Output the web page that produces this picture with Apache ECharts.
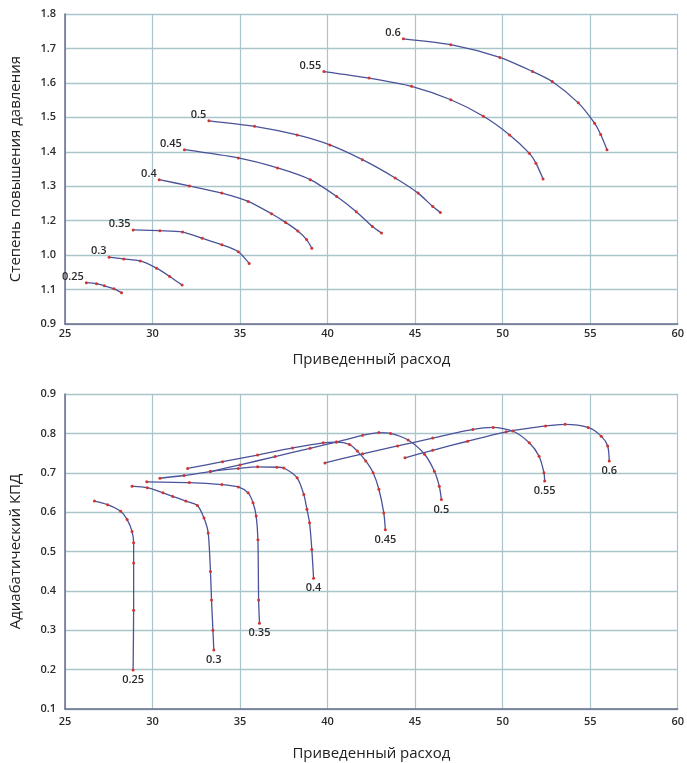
<!DOCTYPE html>
<html>
<head>
<meta charset="utf-8">
<title>Compressor map</title>
<script src="https://cdn.jsdelivr.net/npm/echarts@6/dist/echarts.min.js"></script>
<style>
  html, body { margin: 0; padding: 0; background: #fff; }
  #chart { width: 687px; height: 763px; }
</style>
</head>
<body>
<div id="chart"></div>
<script>
// speed lines (relative rpm)
const speeds = ['0.25', '0.3', '0.35', '0.4', '0.45', '0.5', '0.55', '0.6']

// tick labels as printed on the source chart (upper y axis is mislabelled there)
const xTickLabels = ['25', '30', '35', '40', '45', '50', '55', '60']
const prTickLabels = ['0.9', '1.1', '1.0', '1.2', '1.3', '1.4', '1.5', '1.6', '1.7', '1.8']
const effTickLabels = ['0.1', '0.2', '0.3', '0.4', '0.5', '0.6', '0.7', '0.8', '0.9']

// pressure ratio vs corrected flow, [flow, ratio]
const pr025 = [[26.22, 1.020], [26.8, 1.017], [27.25, 1.011], [27.8, 1.002], [28.23, 0.991]]
const pr030 = [[27.52, 1.094], [28.36, 1.089], [29.3, 1.083], [30.23, 1.062], [30.98, 1.038], [31.69, 1.013]]
const pr035 = [[28.89, 1.173], [30.42, 1.171], [31.72, 1.167], [32.84, 1.149], [33.96, 1.130], [34.9, 1.110], [35.52, 1.076]]
const pr040 = [[30.38, 1.319], [32.1, 1.301], [33.96, 1.28], [35.46, 1.256], [36.8, 1.22], [37.6, 1.195], [38.3, 1.17], [38.8, 1.145], [39.1, 1.12]]
const pr045 = [[31.82, 1.406], [34.9, 1.382], [37.14, 1.353], [39.01, 1.319], [40.52, 1.270], [41.64, 1.226], [42.56, 1.183], [43.08, 1.164]]
const pr050 = [[33.22, 1.490], [35.83, 1.474], [38.26, 1.449], [40.13, 1.420], [41.99, 1.377], [43.86, 1.324], [45.17, 1.280], [46.01, 1.241], [46.44, 1.224]]
const pr055 = [[39.79, 1.633], [42.37, 1.614], [44.8, 1.590], [47.04, 1.551], [48.9, 1.503], [50.4, 1.449], [51.52, 1.396], [51.9, 1.367], [52.31, 1.321]]
const pr060 = [[44.33, 1.728], [47.04, 1.711], [49.84, 1.674], [51.71, 1.633], [52.83, 1.604], [54.32, 1.542], [55.25, 1.483], [55.6, 1.45], [55.96, 1.406]]

// adiabatic efficiency vs corrected flow, [flow, eff]
const eff025 = [[26.68, 0.628], [27.43, 0.619], [28.18, 0.602], [28.55, 0.581], [28.83, 0.551], [28.92, 0.522], [28.92, 0.471], [28.92, 0.351], [28.89, 0.199]]
const eff030 = [[28.83, 0.666], [29.7, 0.662], [30.6, 0.649], [31.16, 0.640], [31.9, 0.628], [32.56, 0.617], [32.94, 0.585], [33.18, 0.547], [33.31, 0.449], [33.37, 0.377], [33.45, 0.30], [33.5, 0.25]]
const eff035 = [[29.67, 0.677], [32.1, 0.675], [33.96, 0.670], [34.9, 0.664], [35.46, 0.649], [35.74, 0.624], [35.92, 0.590], [36.02, 0.530], [36.06, 0.377], [36.11, 0.318]]
const eff040 = [[30.42, 0.686], [31.8, 0.693], [33.31, 0.703], [34.9, 0.711], [36.0, 0.715], [37.1, 0.714], [37.5, 0.712], [38.26, 0.687], [38.64, 0.645], [38.82, 0.607], [38.97, 0.573], [39.1, 0.505], [39.2, 0.432]]
const eff045 = [[32.0, 0.711], [34, 0.728], [36, 0.745], [38, 0.763], [39.75, 0.776], [40.5, 0.778], [41.25, 0.772], [41.7, 0.755], [42.18, 0.730], [42.6, 0.700], [42.93, 0.658], [43.21, 0.598], [43.3, 0.555]]
const eff050 = [[33.3, 0.703], [35, 0.720], [37, 0.741], [39, 0.762], [40.5, 0.778], [42, 0.795], [42.93, 0.802], [43.6, 0.800], [44.6, 0.783], [45.54, 0.747], [46.1, 0.704], [46.38, 0.666], [46.5, 0.632]]
const eff055 = [[39.85, 0.725], [42, 0.748], [44, 0.768], [46, 0.788], [48.3, 0.810], [49.46, 0.815], [50.58, 0.806], [51.52, 0.776], [52.08, 0.742], [52.36, 0.700], [52.4, 0.679]]
const eff060 = [[44.42, 0.738], [46, 0.757], [48, 0.780], [50.2, 0.804], [52.45, 0.819], [53.57, 0.823], [54.88, 0.815], [55.63, 0.793], [56.0, 0.768], [56.09, 0.730]]

const prCurves = [pr025, pr030, pr035, pr040, pr045, pr050, pr055, pr060]
const effCurves = [eff025, eff030, eff035, eff040, eff045, eff050, eff055, eff060]

const font = '"Open Sans", "Noto Sans", sans-serif'
const gridColor = '#aac5ca'
const axisColor = '#6a6c8c'
const lineColor = '#4a5299'
const dotColor = '#d3342f'

const labelStyle = {
  fontFamily: font,
  fontSize: 11,
  fontWeight: 600,
  color: '#2b2b2b'
}

function xAxis(gridIndex, labelMargin, nameGap) {
  return {
    type: 'value',
    gridIndex,
    min: 25,
    max: 60,
    interval: 5,
    name: 'Приведенный расход',
    nameLocation: 'middle',
    nameGap,
    nameTextStyle: { fontFamily: font, fontSize: 15, color: '#222' },
    axisLine: { show: true, onZero: false, lineStyle: { color: axisColor, width: 1.5 } },
    axisTick: { show: false },
    axisLabel: {
      ...labelStyle,
      margin: labelMargin,
      formatter: v => xTickLabels[Math.round((v - 25) / 5)]
    },
    splitLine: { show: true, lineStyle: { color: gridColor, width: 1.2 } }
  }
}

function yAxis(gridIndex, min, max, labels, name) {
  return {
    type: 'value',
    gridIndex,
    min,
    max,
    interval: 0.1,
    name,
    nameLocation: 'middle',
    nameGap: 42,
    nameTextStyle: { fontFamily: font, fontSize: 15, color: '#222' },
    axisLine: { show: true, onZero: false, lineStyle: { color: axisColor, width: 1.5 } },
    axisTick: { show: false },
    axisLabel: {
      ...labelStyle,
      margin: 9,
      formatter: v => labels[Math.round((v - min) / 0.1)]
    },
    splitLine: { show: true, lineStyle: { color: gridColor, width: 1.4 } }
  }
}

function curveSeries(points, name, axisIndex, labelAt, labelOpts) {
  return {
    type: 'line',
    name,
    xAxisIndex: axisIndex,
    yAxisIndex: axisIndex,
    smooth: 0.25,
    showAllSymbol: true,
    symbol: 'circle',
    symbolSize: 3,
    itemStyle: { color: dotColor },
    lineStyle: { color: lineColor, width: 1.3 },
    label: { show: false },
    emphasis: { disabled: true },
    data: points.map((p, i) => {
      if (i !== labelAt) return p
      return { value: p, label: { show: true, formatter: name, ...labelStyle, ...labelOpts } }
    })
  }
}

const series = []
prCurves.forEach((pts, i) => {
  series.push(curveSeries(pts, speeds[i], 0, 0, { position: 'left', distance: 1, offset: [0, -6] }))
})
effCurves.forEach((pts, i) => {
  series.push(curveSeries(pts, speeds[i], 1, pts.length - 1, { position: 'bottom', distance: 3 }))
})

const chart = echarts.init(document.getElementById('chart'))
chart.setOption({
  animation: false,
  backgroundColor: '#fff',
  grid: [
    { left: 63, top: 14, width: 625, height: 310 },
    { left: 63, top: 394, width: 625, height: 315 }
  ],
  xAxis: [xAxis(0, 4, 28), xAxis(1, 7, 37)],
  yAxis: [
    yAxis(0, 0.9, 1.8, prTickLabels, 'Степень повышения давления'),
    yAxis(1, 0.1, 0.9, effTickLabels, 'Адиабатический КПД')
  ],
  series
})
</script>
</body>
</html>
